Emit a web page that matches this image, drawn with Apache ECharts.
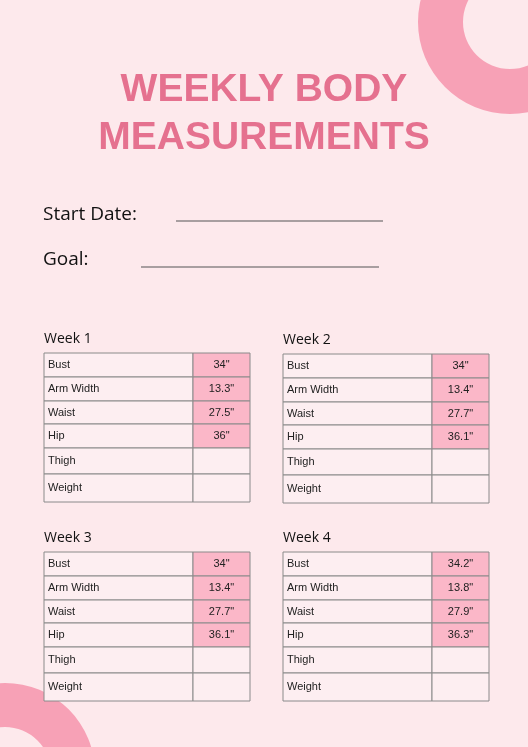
<!DOCTYPE html>
<html>
<head>
  <meta charset="UTF-8">
  <script src="https://cdn.jsdelivr.net/npm/echarts@6/dist/echarts.min.js"></script>
  <style>
    html, body { margin: 0; padding: 0; width: 100%; height: 100%; background: #fde9ec; }
    #chart { width: 528px; height: 747px; }
  </style>
</head>
<body>
  <div id="chart"></div>
  <script>
    const weeks = ['Week 1', 'Week 2', 'Week 3', 'Week 4'];
    const measures = ['Bust', 'Arm Width', 'Waist', 'Hip', 'Thigh', 'Weight'];
    const week1 = ['34"', '13.3"', '27.5"', '36"', '', ''];
    const week2 = ['34"', '13.4"', '27.7"', '36.1"', '', ''];
    const week3 = ['34"', '13.4"', '27.7"', '36.1"', '', ''];
    const week4 = ['34.2"', '13.8"', '27.9"', '36.3"', '', ''];
    const weekValues = [week1, week2, week3, week4];

    // table placement: [left, top, split, right]
    const boxes = [[44, 353, 193, 250], [283, 354, 432, 489], [44, 552, 193, 250], [283, 552, 432, 489]];
    const rowH = [24, 24, 23, 24, 26, 28];

    const chart = echarts.init(document.getElementById('chart'));
    const els = [];

    // decorative rings
    els.push({ type: 'ring', shape: { cx: 510, cy: 22, r: 92, r0: 47 }, style: { fill: '#f7a1b6' } });
    els.push({ type: 'ring', shape: { cx: 5, cy: 773, r: 90, r0: 46 }, style: { fill: '#f7a1b6' } });

    // heading
    ['WEEKLY BODY', 'MEASUREMENTS'].forEach((t, i) => {
      els.push({ type: 'text', x: 264, y: 90 + i * 48, style: {
        text: t, fill: '#e5718f', font: 'bold 39px "Liberation Sans", Arial', align: 'center', verticalAlign: 'middle' } });
    });
    els.push({ type: 'text', x: 43, y: 215, style: { text: 'Start Date:', fill: '#111', font: '19px "Open Sans"', verticalAlign: 'middle' } });
    els.push({ type: 'line', shape: { x1: 176, y1: 221, x2: 383, y2: 221 }, style: { stroke: '#555', lineWidth: 1.2 } });
    els.push({ type: 'text', x: 43, y: 260, style: { text: 'Goal:', fill: '#111', font: '19px "Open Sans"', verticalAlign: 'middle' } });
    els.push({ type: 'line', shape: { x1: 141, y1: 267, x2: 379, y2: 267 }, style: { stroke: '#555', lineWidth: 1.2 } });

    weeks.forEach((w, k) => {
      const [x0, y0, xs, x1] = boxes[k];
      els.push({ type: 'text', x: x0, y: y0 - 14, style: { text: w, fill: '#111', font: '14px "Open Sans"', verticalAlign: 'middle' } });
      let y = y0;
      measures.forEach((m, r) => {
        const h = rowH[r];
        const v = weekValues[k][r];
        els.push({ type: 'rect', shape: { x: x0, y: y, width: xs - x0, height: h }, style: { fill: '#fdeef1', stroke: '#8a8a8a', lineWidth: 1 } });
        els.push({ type: 'rect', shape: { x: xs, y: y, width: x1 - xs, height: h }, style: { fill: v ? '#fbb7c8' : '#fdeef1', stroke: '#8a8a8a', lineWidth: 1 } });
        els.push({ type: 'text', x: x0 + 4, y: y + h / 2, style: { text: m, fill: '#222', font: '11px "Liberation Sans", Arial', verticalAlign: 'middle' } });
        if (v) els.push({ type: 'text', x: (xs + x1) / 2, y: y + h / 2, style: { text: v, fill: '#222', font: '11px "Liberation Sans", Arial', align: 'center', verticalAlign: 'middle' } });
        y += h;
      });
    });

    chart.setOption({ backgroundColor: '#fde9ec', graphic: { elements: els } });
  </script>
</body>
</html>
